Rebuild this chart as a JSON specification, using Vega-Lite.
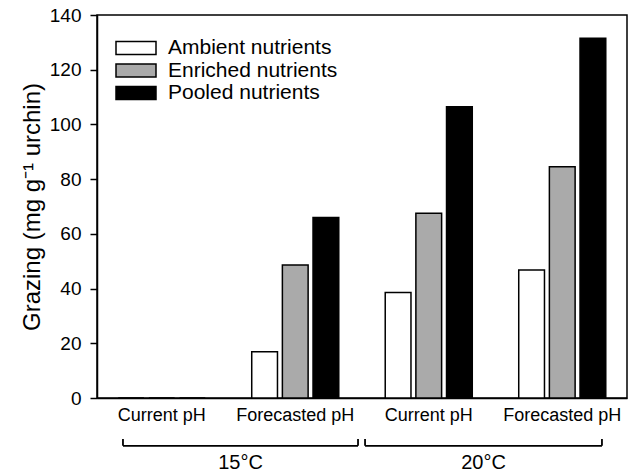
{
  "$schema": "https://vega.github.io/schema/vega-lite/v6.json",
  "autosize": {"type": "none"},
  "padding": {"left": 97, "top": 15, "right": 5, "bottom": 78},
  "width": 530,
  "height": 383,
  "config": {
    "font": "Liberation Sans",
    "view": {"stroke": "black", "strokeWidth": 1.5},
    "axis": {"labelColor": "black", "titleColor": "black", "domainColor": "black", "tickColor": "black", "labelFont": "Liberation Sans", "titleFont": "Liberation Sans"},
    "legend": {"labelFont": "Liberation Sans", "labelColor": "black"}
  },
  "datasets": {
    "bars": [
      {"cat": "1 Current pH", "nutrients": "Ambient nutrients", "grazing": 0},
      {"cat": "1 Current pH", "nutrients": "Enriched nutrients", "grazing": 0},
      {"cat": "1 Current pH", "nutrients": "Pooled nutrients", "grazing": 0},
      {"cat": "2 Forecasted pH", "nutrients": "Ambient nutrients", "grazing": 16.9},
      {"cat": "2 Forecasted pH", "nutrients": "Enriched nutrients", "grazing": 48.6},
      {"cat": "2 Forecasted pH", "nutrients": "Pooled nutrients", "grazing": 66.0},
      {"cat": "3 Current pH", "nutrients": "Ambient nutrients", "grazing": 38.6},
      {"cat": "3 Current pH", "nutrients": "Enriched nutrients", "grazing": 67.5},
      {"cat": "3 Current pH", "nutrients": "Pooled nutrients", "grazing": 106.5},
      {"cat": "4 Forecasted pH", "nutrients": "Ambient nutrients", "grazing": 46.8},
      {"cat": "4 Forecasted pH", "nutrients": "Enriched nutrients", "grazing": 84.5},
      {"cat": "4 Forecasted pH", "nutrients": "Pooled nutrients", "grazing": 131.5}
    ],
    "brackets": [
      {"x1": 0.196, "x2": 1.970, "y1": -17.5, "y2": -17.5},
      {"x1": 0.196, "x2": 0.196, "y1": -15.0, "y2": -17.5},
      {"x1": 1.970, "x2": 1.970, "y1": -15.0, "y2": -17.5},
      {"x1": 2.023, "x2": 3.811, "y1": -17.5, "y2": -17.5},
      {"x1": 2.023, "x2": 2.023, "y1": -15.0, "y2": -17.5},
      {"x1": 3.811, "x2": 3.811, "y1": -15.0, "y2": -17.5}
    ],
    "temps": [
      {"xc": 1.083, "yc": -23.8, "label": "15°C"},
      {"xc": 2.917, "yc": -23.8, "label": "20°C"}
    ]
  },
  "layer": [
    {
      "data": {"name": "bars"},
      "mark": {"type": "bar", "stroke": "black", "strokeWidth": 1.5},
      "encoding": {
        "x": {
          "field": "cat", "type": "nominal", "sort": null,
          "scale": {"paddingInner": 0.348, "paddingOuter": 0.159},
          "axis": {"title": null, "labelExpr": "substring(datum.label, 2)", "labelAngle": 0, "labelFontSize": 18, "ticks": false, "labelPadding": 8, "domainWidth": 1.5}
        },
        "xOffset": {
          "field": "nutrients", "type": "nominal",
          "scale": {"paddingInner": 0.16, "paddingOuter": 0}
        },
        "y": {
          "field": "grazing", "type": "quantitative",
          "scale": {"domain": [0, 140], "nice": false},
          "axis": {"title": "Grazing (mg g⁻¹ urchin)", "titleFontSize": 24, "titleFontWeight": "normal", "titleX": -65, "titleY": 191.5, "titleAngle": 270, "titleAlign": "center", "titleBaseline": "middle", "values": [0, 20, 40, 60, 80, 100, 120, 140], "grid": false, "tickSize": 7, "tickWidth": 1.5, "domainWidth": 1.5, "labelFontSize": 19, "labelPadding": 9}
        },
        "fill": {
          "field": "nutrients", "type": "nominal",
          "scale": {"domain": ["Ambient nutrients", "Enriched nutrients", "Pooled nutrients"], "range": ["white", "#aaaaaa", "black"]},
          "legend": {
            "title": null, "orient": "none", "legendX": 28, "legendY": 22,
            "symbolType": "M-2,-0.65L2,-0.65L2,0.65L-2,0.65Z",
            "symbolSize": 400, "symbolStrokeColor": "black", "symbolStrokeWidth": 1.5,
            "labelFontSize": 21, "labelOffset": 21, "labelLimit": 400, "rowPadding": 1.5, "padding": 0
          }
        }
      }
    },
    {
      "data": {"name": "brackets"},
      "mark": {"type": "rule", "color": "black", "strokeWidth": 1.8, "clip": false},
      "encoding": {
        "x": {"field": "x1", "type": "quantitative", "scale": {"domain": [0, 4], "nice": false, "zero": false}, "axis": null},
        "x2": {"field": "x2"},
        "y": {"field": "y1", "type": "quantitative", "scale": {"domain": [0, 140], "nice": false}},
        "y2": {"field": "y2"}
      }
    },
    {
      "data": {"name": "temps"},
      "mark": {"type": "text", "fontSize": 20, "color": "black", "baseline": "middle", "align": "center", "clip": false},
      "encoding": {
        "x": {"field": "xc", "type": "quantitative", "scale": {"domain": [0, 4], "nice": false, "zero": false}, "axis": null},
        "y": {"field": "yc", "type": "quantitative", "scale": {"domain": [0, 140], "nice": false}},
        "text": {"field": "label"}
      }
    }
  ],
  "resolve": {"scale": {"x": "independent"}, "axis": {"x": "independent"}}
}
